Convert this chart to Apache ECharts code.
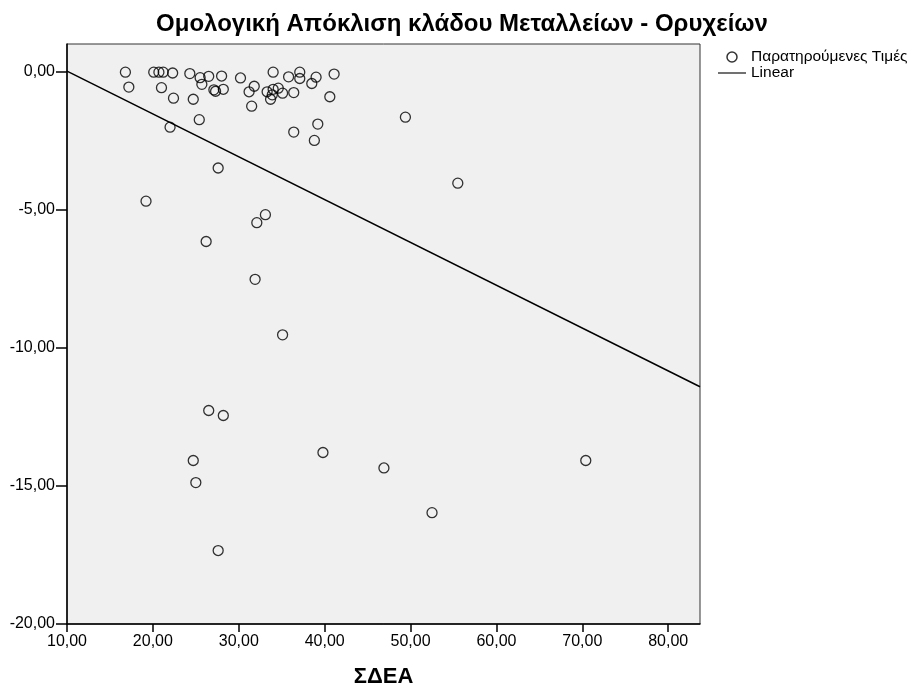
<!DOCTYPE html>
<html>
<head>
<meta charset="utf-8">
<script src="https://cdn.jsdelivr.net/npm/echarts@6/dist/echarts.min.js"></script>
<style>html,body{margin:0;padding:0;background:#fff;overflow:hidden}#c{width:912px;height:689px}</style>
</head>
<body>
<div id="c"></div>
<script>
var xVals = [16.8,20.1,20.7,21.2,22.3,24.3,25.5,26.5,28.0,25.7,30.2,31.8,31.2,31.5,34.0,35.8,37.1,37.1,39.0,38.5,41.1,40.6,36.4,35.1,34.6,34.0,33.3,33.9,33.7,17.2,21.0,22.4,24.7,27.1,27.3,28.2,25.4,22.0,36.4,39.2,38.8,49.4,27.6,19.2,33.1,32.1,26.2,31.9,35.1,26.5,28.2,24.7,25.0,39.8,46.9,52.5,27.6,55.5,70.4];
var yVals = [-0.02,-0.02,-0.02,-0.02,-0.05,-0.07,-0.22,-0.17,-0.16,-0.46,-0.23,-0.53,-0.73,-1.25,-0.02,-0.19,-0.02,-0.25,-0.20,-0.43,-0.09,-0.91,-0.76,-0.78,-0.60,-0.64,-0.73,-0.84,-1.00,-0.56,-0.58,-0.96,-1.00,-0.66,-0.71,-0.64,-1.74,-2.01,-2.19,-1.90,-2.49,-1.65,-3.49,-4.69,-5.18,-5.47,-6.15,-7.52,-9.53,-12.27,-12.45,-14.08,-14.88,-13.79,-14.35,-15.97,-17.34,-4.04,-14.08];
var lineX = [10, 83.7];
var lineY = [0.02, -11.41];
var xTicks = [10,20,30,40,50,60,70,80];
var yTicks = [-20,-15,-10,-5,0];

var pts = xVals.map(function(x,i){return [x, yVals[i]];});
var linePts = lineX.map(function(x,i){return [x, lineY[i]];});
function fmt(v){return v.toFixed(2).replace('.', ',');}

var chart = echarts.init(document.getElementById('c'));
chart.setOption({
  animation: false,
  backgroundColor: '#ffffff',
  title: {
    text: 'Ομολογική Απόκλιση κλάδου Μεταλλείων - Ορυχείων',
    left: 457, textAlign: 'center', top: 7,
    textStyle: {fontFamily: 'Liberation Sans', fontWeight: 'bold', fontSize: 24, color: '#000'}
  },
  legend: {
    orient: 'vertical', left: 713, top: 44, itemGap: 0, itemWidth: 28, itemHeight: 10,
    textStyle: {fontFamily: 'Liberation Sans', fontSize: 15.5, color: '#000', lineHeight: 16},
    data: [
      {name: 'Παρατηρούμενες Τιμές', icon: 'circle',
       itemStyle: {color: 'rgba(0,0,0,0)', borderColor: '#000', borderWidth: 1.5}},
      {name: 'Linear', icon: 'path://M0,0 L40,0 L40,1.6 L0,1.6 Z',
       itemStyle: {color: '#000', borderWidth: 0}}
    ]
  },
  grid: {
    left: 67, top: 44, right: 212, bottom: 65,
    outerBoundsMode: 'none', containLabel: false,
    show: true, backgroundColor: '#f0f0f0', borderColor: '#333', borderWidth: 1
  },
  xAxis: {
    type: 'value', min: 10, max: 83.7,
    name: 'ΣΔΕΑ', nameLocation: 'middle', nameGap: 42,
    nameTextStyle: {fontFamily: 'Liberation Sans', fontWeight: 'bold', fontSize: 22, color: '#000'},
    splitLine: {show: false},
    axisLine: {show: true, onZero: false, lineStyle: {color: '#000', width: 1.5}},
    axisTick: {show: true, length: 8, customValues: xTicks, lineStyle: {color: '#000', width: 1.5}},
    axisLabel: {customValues: xTicks, formatter: fmt, margin: 10,
      fontFamily: 'Liberation Sans', fontSize: 16, color: '#000'}
  },
  yAxis: {
    type: 'value', min: -20, max: 1.0,
    splitLine: {show: false},
    axisLine: {show: true, onZero: false, lineStyle: {color: '#000', width: 1.5}},
    axisTick: {show: true, length: 11, customValues: yTicks, lineStyle: {color: '#000', width: 1.5}},
    axisLabel: {customValues: yTicks, formatter: fmt, margin: 12,
      fontFamily: 'Liberation Sans', fontSize: 16, color: '#000'}
  },
  series: [
    {
      name: 'Παρατηρούμενες Τιμές', type: 'scatter', data: pts,
      symbol: 'circle', symbolSize: 10,
      itemStyle: {color: 'rgba(0,0,0,0)', borderColor: '#000', borderWidth: 1.3}
    },
    {
      name: 'Linear', type: 'line', data: linePts, symbol: 'none', showSymbol: false,
      lineStyle: {color: '#000', width: 1.5},
      itemStyle: {color: '#000'}
    }
  ]
});
</script>
</body>
</html>
